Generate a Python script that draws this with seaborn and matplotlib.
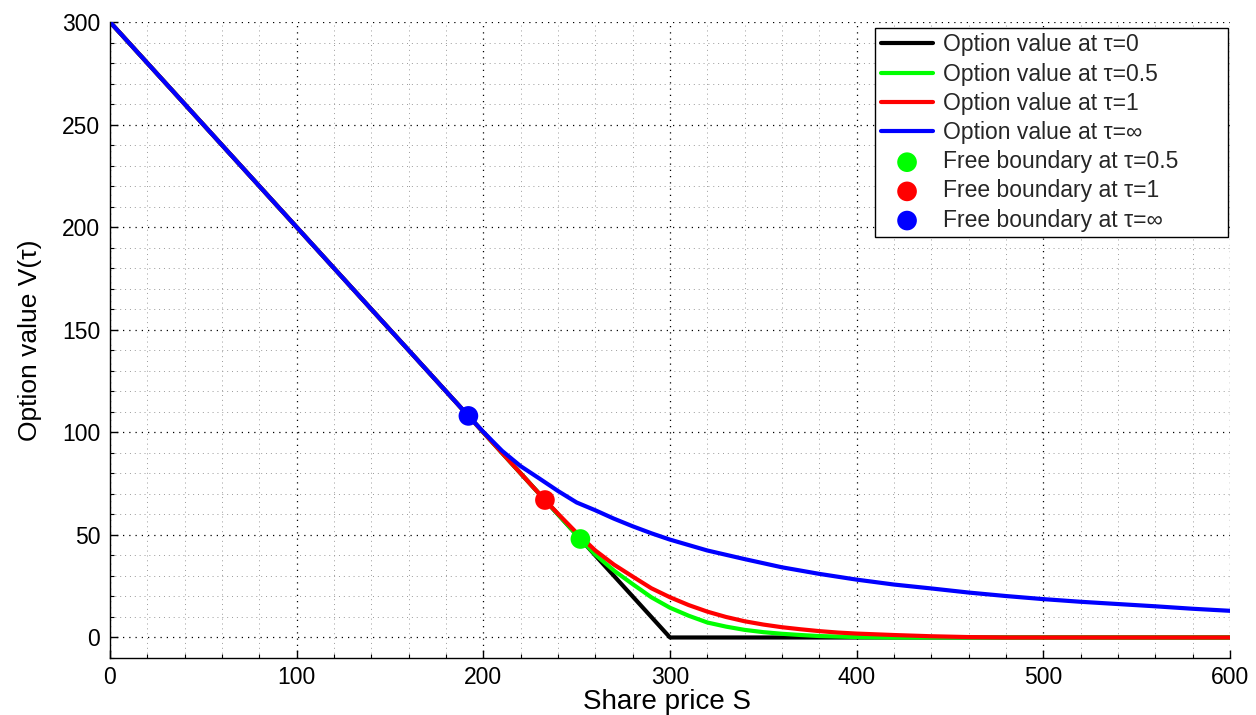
import matplotlib
matplotlib.use("Agg")
import matplotlib.pyplot as plt
from matplotlib.ticker import MultipleLocator
import seaborn as sns

# Option value of an American put (strike 300) against share price
S_TAU0 = [0, 300, 600]
V_TAU0 = [300, 0, 0]

S_TAU05 = [0, 252, 260, 270, 280, 290, 300, 310, 320, 330, 340, 350, 360,
           370, 380, 400, 420, 600]
V_TAU05 = [300, 48, 40.4, 32.6, 26.0, 19.6, 14.5, 10.6, 7.3, 5.3, 3.7, 2.6,
           1.8, 1.2, 0.7, 0.2, 0, 0]

S_TAU1 = [0, 233, 240, 250, 260, 270, 280, 290, 300, 310, 320, 330, 340, 350,
          360, 370, 380, 390, 400, 420, 440, 460, 480, 600]
V_TAU1 = [300, 67, 60.3, 51.0, 42.4, 35.5, 29.7, 24.0, 19.6, 15.8, 12.6, 10.0,
          7.9, 6.3, 5.0, 4.0, 3.1, 2.4, 1.9, 1.2, 0.6, 0.2, 0, 0]

S_INF = [0, 192, 200, 210, 220, 230, 240, 250, 260, 270, 280, 290, 300, 320,
         340, 360, 380, 400, 420, 440, 460, 480, 500, 520, 540, 560, 580, 600]
V_INF = [300, 108, 100.2, 91.0, 83.5, 77.5, 71.4, 65.8, 62.0, 57.9, 54.2, 50.8,
         47.7, 42.4, 38.2, 34.2, 31.0, 28.2, 25.8, 23.9, 21.9, 20.2, 18.7,
         17.4, 16.3, 15.2, 14.0, 13.0]

CURVE_LABELS = ["Option value at τ=0", "Option value at τ=0.5",
                "Option value at τ=1", "Option value at τ=∞"]

# Early-exercise (free boundary) points
BOUNDARY_S = [252, 233, 192]
BOUNDARY_V = [48, 67, 108]
BOUNDARY_LABELS = ["Free boundary at τ=0.5", "Free boundary at τ=1",
                   "Free boundary at τ=∞"]

sns.set_theme(style="white")
plt.rcParams["font.family"] = ["Liberation Sans", "DejaVu Sans"]

fig = plt.figure(figsize=(12.56, 7.15), dpi=100)
ax = fig.add_axes([110 / 1256, 57 / 715, 1120 / 1256, 636 / 715])

curves = [(S_TAU0, V_TAU0, "#000000"), (S_TAU05, V_TAU05, "#00ff00"),
          (S_TAU1, V_TAU1, "#ff0000"), (S_INF, V_INF, "#0000ff")]
for (s, v, col), lab in zip(curves, CURVE_LABELS):
    sns.lineplot(x=s, y=v, color=col, linewidth=3.0, label=lab, ax=ax,
                 estimator=None, sort=False)

dot_colors = ["#00ff00", "#ff0000", "#0000ff"]
for s, v, col, lab in zip(BOUNDARY_S, BOUNDARY_V, dot_colors, BOUNDARY_LABELS):
    sns.scatterplot(x=[s], y=[v], color=col, s=200, edgecolor="none",
                    label=lab, ax=ax, zorder=5)

ax.set_xlim(0, 600)
ax.set_ylim(-10, 300)
ax.xaxis.set_major_locator(MultipleLocator(100))
ax.xaxis.set_minor_locator(MultipleLocator(20))
ax.yaxis.set_major_locator(MultipleLocator(50))
ax.yaxis.set_minor_locator(MultipleLocator(10))

ax.grid(True, which="major", color="#000000", linestyle=(0, (1, 4)), linewidth=0.9)
ax.grid(True, which="minor", color="#9a9a9a", linestyle=(0, (1, 4)), linewidth=0.7)
ax.set_axisbelow(True)

for side in ["top", "right"]:
    ax.spines[side].set_visible(False)
for side in ["left", "bottom"]:
    ax.spines[side].set_color("#000000")
    ax.spines[side].set_linewidth(1.0)

ax.tick_params(which="both", direction="in", colors="#000000",
               bottom=True, left=True, top=False, right=False)
ax.tick_params(which="major", length=6, width=1, labelsize=16.5, pad=7)
ax.tick_params(which="minor", length=3, width=0.8)
ax.tick_params(axis="x", which="major", pad=6)

ax.set_xlabel("Share price S", fontsize=20, color="#000000")
ax.set_ylabel("Option value V(τ)", fontsize=19, color="#000000")
ax.xaxis.set_label_coords(0.497, -0.049)
ax.yaxis.set_label_coords(-0.061, 0.5)

leg = ax.legend(loc="upper left", bbox_to_anchor=(0.683, 0.662, 0.315, 0.329),
                mode="expand", fontsize=16.5, frameon=True, fancybox=False,
                framealpha=1, edgecolor="#000000", handlelength=2.3,
                handletextpad=0.4, labelspacing=0.27, borderpad=0.25,
                borderaxespad=0)
leg.get_frame().set_linewidth(1.0)

fig.savefig("out.png", dpi=100)
